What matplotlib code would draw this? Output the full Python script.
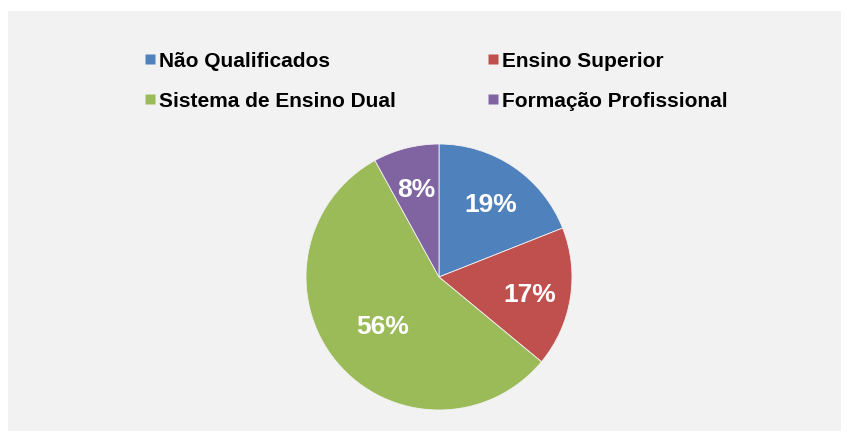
import matplotlib
matplotlib.use("Agg")
import matplotlib.pyplot as plt
from matplotlib.patches import Rectangle
from matplotlib.lines import Line2D
import numpy as np

categories = ["Não Qualificados", "Ensino Superior", "Sistema de Ensino Dual", "Formação Profissional"]
values = [19, 17, 56, 8]
colors = ["#4f81bd", "#c0504d", "#9bbb59", "#8064a2"]
label_dist = [0.69, 0.69, 0.55, 0.70]

plt.rcParams['font.family'] = ['Liberation Sans', 'DejaVu Sans']

fig = plt.figure(figsize=(8.47, 4.39), dpi=100)
W, H = 847, 439
fig.patches.append(Rectangle((8 / W, 1 - 432 / H), (841 - 8) / W, (432 - 12) / H,
                             transform=fig.transFigure, facecolor="#f2f2f2",
                             edgecolor="none", zorder=-10))

cx, cy, r = 439, 278, 133
ax = fig.add_axes([(cx - r) / W, 1 - (cy + r) / H, 2 * r / W, 2 * r / H])
wedges, _ = ax.pie(values, colors=colors, startangle=90, counterclock=False,
                   radius=1.0, wedgeprops=dict(linewidth=0.6, edgecolor="#f2f2f2"))
ax.set_xlim(-1, 1)
ax.set_ylim(-1, 1)
ax.set_aspect("equal")
ax.axis("off")

total = sum(values)
for w, v, d in zip(wedges, values, label_dist):
    ang = np.deg2rad((w.theta1 + w.theta2) / 2)
    ax.text(d * np.cos(ang), d * np.sin(ang) - 0.02, f"{round(100 * v / total)}%",
            ha="center", va="center", color="white", fontsize=19, fontweight="bold")

order = [0, 2, 1, 3]
handles = [Line2D([], [], linestyle="none", marker="s", markersize=7.5,
                  markerfacecolor=colors[i], markeredgecolor="none") for i in order]
labels = [categories[i] for i in order]
leg = fig.legend(handles, labels, ncol=2, loc="upper left",
                 bbox_to_anchor=(144 / W, 1 - 52 / H), frameon=False,
                 prop=dict(size=15, weight="bold"), handlelength=0.55,
                 handletextpad=0.15, columnspacing=4.4, labelspacing=1.0,
                 borderpad=0, borderaxespad=0)

fig.savefig("out.png", dpi=100)
